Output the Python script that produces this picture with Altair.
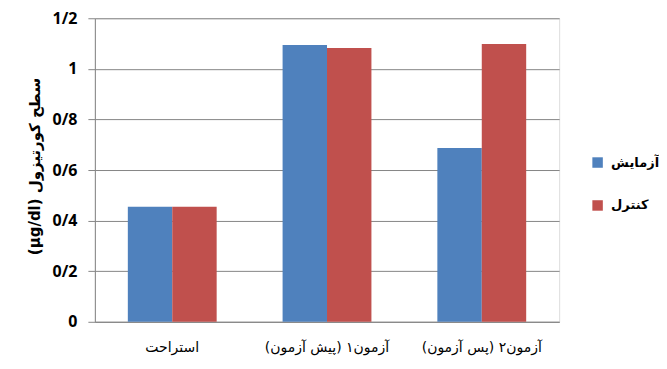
import altair as alt
import pandas as pd

RLE, PDF = "\u202b", "\u202c"

categories = ["استراحت", "آزمون۱ (پیش آزمون)", "آزمون۲ (پس آزمون)"]
series = ["آزمایش", "کنترل"]
values_exp = [0.455, 1.094, 0.687]
values_ctl = [0.455, 1.082, 1.098]
colors = ["#4F81BD", "#C0504D"]

cats = [RLE + c + PDF for c in categories]
rows = []
for c, v in zip(cats, values_exp):
    rows.append({"group": c, "series": series[0], "value": v})
for c, v in zip(cats, values_ctl):
    rows.append({"group": c, "series": series[1], "value": v})
df = pd.DataFrame(rows)

FONT = "DejaVu Sans"

chart = alt.Chart(df).mark_bar().encode(
    x=alt.X("group:N", sort=cats, title=None,
            scale=alt.Scale(paddingInner=0.426, paddingOuter=0.213),
            axis=alt.Axis(labelAngle=0, labelFontSize=14, labelColor="#000000",
                          labelFont=FONT, labelPadding=19, ticks=False,
                          domainColor="#868686", grid=False)),
    xOffset=alt.XOffset("series:N", sort=series),
    y=alt.Y("value:Q", title=RLE + "سطح کورتیزول (µg/dl)" + PDF,
            scale=alt.Scale(domain=[0, 1.2], nice=False),
            axis=alt.Axis(values=[0, 0.2, 0.4, 0.6, 0.8, 1.0, 1.2],
                          labelExpr="replace(format(datum.value, '~g'), '.', '/')",
                          labelFontSize=16, labelFontWeight="bold", labelFont="Open Sans",
                          labelColor="#000000", labelPadding=11,
                          tickSize=7, tickColor="#868686", domainColor="#868686",
                          gridColor="#868686", titleFontSize=15, titleFontWeight="bold",
                          titleFont=FONT, titleColor="#000000", titleAngle=-90,
                          titleX=-60, titleY=148, titleAlign="center",
                          titleBaseline="middle")),
    color=alt.Color("series:N", sort=series,
                    scale=alt.Scale(domain=series, range=colors),
                    legend=alt.Legend(title=None, orient="none", legendX=497, legendY=138,
                                      symbolType="square", symbolSize=110,
                                      symbolStrokeWidth=0, labelFontSize=13,
                                      labelFontWeight="bold", labelFont=FONT,
                                      labelColor="#000000", rowPadding=29,
                                      labelOffset=7, labelLimit=200)),
).properties(
    width=465, height=304,
    autosize=alt.AutoSizeParams(type="none"),
    padding={"left": 87, "top": 10, "right": 100, "bottom": 35},
).configure_view(stroke=None).configure(background="white")

chart.save("out.html", embed_options={"renderer": "svg", "actions": False})
